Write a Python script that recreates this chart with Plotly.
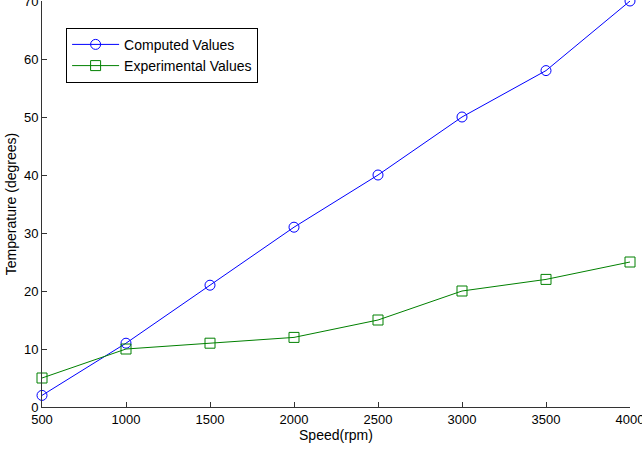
import plotly.graph_objects as go

speed = [500, 1000, 1500, 2000, 2500, 3000, 3500, 4000]
computed = [2, 11, 21, 31, 40, 50, 58, 70]
experimental = [5, 10, 11, 12, 15, 20, 22, 25]
x_ticks = [500, 1000, 1500, 2000, 2500, 3000, 3500, 4000]
y_ticks = [0, 10, 20, 30, 40, 50, 60, 70]

FONT = "Liberation Sans, Arial"

fig = go.Figure()
fig.add_trace(go.Scatter(
    x=speed, y=computed, mode="lines+markers", name="Computed Values",
    line=dict(color="#0000FF", width=1),
    marker=dict(symbol="circle-open", size=10, color="#0000FF", line=dict(width=1)),
    cliponaxis=False,
))
fig.add_trace(go.Scatter(
    x=speed, y=experimental, mode="lines+markers", name="Experimental Values",
    line=dict(color="#008000", width=1),
    marker=dict(symbol="square-open", size=10, color="#008000", line=dict(width=1)),
    cliponaxis=False,
))

axis_common = dict(
    showgrid=False, zeroline=False, showline=True, linecolor="#333333", linewidth=1,
    ticks="inside", ticklen=5, tickcolor="#333333",
    ticklabeloverflow="allow", automargin=False,
    tickfont=dict(family=FONT, size=13, color="black"),
    title_font=dict(family=FONT, size=14, color="black"),
)
fig.update_xaxes(range=[500, 4000], tickvals=x_ticks, title_text="Speed(rpm)",
                 title_standoff=4, **axis_common)
fig.update_yaxes(range=[0, 70], tickvals=y_ticks, title_text="Temperature (degrees)",
                 title_standoff=4, **axis_common)

fig.update_layout(
    width=642, height=450,
    margin=dict(l=42, r=12, t=1, b=43),
    plot_bgcolor="white", paper_bgcolor="white",
    showlegend=True,
    legend=dict(
        x=0.041, y=0.934, xanchor="left", yanchor="top",
        bgcolor="white", bordercolor="black", borderwidth=1,
        font=dict(family=FONT, size=14, color="black"),
        tracegroupgap=0, itemwidth=47, entrywidth=193, entrywidthmode="pixels",
    ),
)

fig.write_html("out.html")
